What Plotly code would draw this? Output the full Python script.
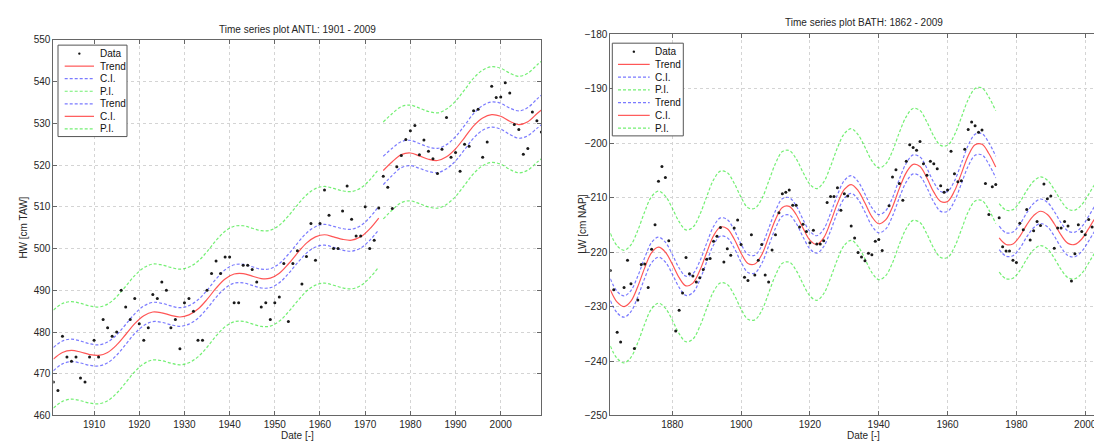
import plotly.graph_objects as go

W, H = 1102, 441

# ---------------- ANTL (left panel) ----------------
antl_years = list(range(1901, 2010))
antl_hw = [468, 466, 479, 474, 473, 474, 469, 468, 474, 478,            # 1901-1910
           474, 483, 481, 479, 480, 490, 486, 483, 488, 482,            # 1911-1920
           478, 481, 489, 488, 492, 490, 481, 483, 476, 487,            # 1921-1930
           488, 485, 478, 478, 490, 494, 497, 494, 498, 498,            # 1931-1940
           487, 487, 496, 496, 495, 492, 486, 487, 483, 487,            # 1941-1950
           488.4, 496.4, 482.5, 496.4, 499.5, 491.5, 498.1, 506, 497.2, 506,  # 1951-1960
           514, 508, 500, 500, 509, 515, 507, 503, 503, 510,            # 1961-1970
           500, 502, 509.7, 517.3, 514.7, 509.6, 519.6, 522.3, 526.1, 528.2,  # 1971-1980
           529.5, 522.5, 526, 523.3, 521.5, 518, 523.8, 531.4, 521.9, 523,    # 1981-1990
           518.5, 525, 524.5, 533, 533.4, 521.9, 525.5, 538.9, 536.2, 536.3,  # 1991-2000
           539.7, 537.3, 529.7, 528.5, 522.6, 524, 532.7, 530.6, 527.9]       # 2001-2009

# fitted trend, read at knots (segment 1: 1901-1973)
antl_k1 = list(range(1901, 1974, 2))
antl_t1 = [473.5, 475.1, 475.6, 475.2, 474.6, 474.4, 475.1, 476.9, 479.4, 482.0,
           483.9, 484.8, 484.6, 484.0, 483.6, 484.1, 485.5, 487.8, 490.5, 492.7,
           493.9, 494.0, 493.4, 492.8, 492.9, 494.1, 496.3, 498.9, 501.3, 502.8,
           503.3, 502.8, 502.2, 502.0, 502.8, 504.7, 507.3]
antl_ci1 = [2.80, 2.74, 2.69, 2.63, 2.58, 2.53, 2.49, 2.44, 2.40, 2.36,
            2.33, 2.30, 2.28, 2.25, 2.23, 2.22, 2.21, 2.20, 2.20, 2.20,
            2.21, 2.22, 2.23, 2.25, 2.28, 2.30, 2.33, 2.36, 2.40, 2.44,
            2.49, 2.53, 2.58, 2.63, 2.69, 2.74, 2.80]
antl_pi1 = [11.75, 11.72, 11.69, 11.66, 11.63, 11.60, 11.58, 11.56, 11.54, 11.52,
            11.50, 11.49, 11.48, 11.47, 11.46, 11.46, 11.45, 11.45, 11.45, 11.45,
            11.45, 11.46, 11.46, 11.47, 11.48, 11.49, 11.50, 11.52, 11.54, 11.56,
            11.58, 11.60, 11.63, 11.66, 11.69, 11.72, 11.75]
# segment 2: 1974-2009
antl_k2 = list(range(1974, 2009, 2)) + [2009]
antl_t2 = [518.7, 520.8, 522.5, 522.9, 522.2, 521.4, 521.1, 522.0, 523.9, 526.6,
           529.4, 531.3, 532.1, 531.7, 530.5, 529.7, 530.4, 532.3, 533.2]
antl_ci2 = [3.40, 3.25, 3.12, 3.03, 2.97, 2.93, 2.91, 2.90, 2.90, 2.91,
            2.93, 2.97, 3.02, 3.09, 3.17, 3.27, 3.38, 3.50, 3.56]
antl_pi2 = [11.60, 11.55, 11.50, 11.47, 11.45, 11.43, 11.42, 11.42, 11.42, 11.42,
            11.43, 11.45, 11.47, 11.50, 11.53, 11.57, 11.61, 11.65, 11.68]

# ---------------- BATH (right panel) ----------------
bath_years = list(range(1862, 2008))
bath_lw = [-223.4, -226.9, -234.7, -236.5, -226.5, -221.5, -225.8, -237.7, -228.8, -222.3,  # 1862-1871
           -222.2, -226.5, -219.5, -215.0, -207.0, -204.3, -206.3, -217.9, None, -234.5,    # 1872-1881
           -230.7, -227.5, -221.0, -224.0, -224.4, -225.5, -224.7, -223.2, -221.3, -221.2,  # 1882-1891
           -218.0, -217.1, -215.5, -221.8, -219.4, -220.6, -215.6, -214.1, -218.6, -224.6,  # 1892-1901
           -225.2, -216.8, -224.2, -221.5, -218.6, -224.2, -225.5, -219.6, -216.8, -212.8,  # 1902-1911
           -209.3, -209.0, -208.6, -211.4, -211.4, -215.4, -214.9, -216.2, -218.3, -216.0,  # 1912-1921
           -218.5, -218.5, -217.9, -210.9, -209.8, -209.8, -208.2, -212.3, -209.3, -209.7,  # 1922-1931
           -215.2, -217.4, -220.1, -220.9, -221.6, -220.2, -220.5, -218.0, -217.7, -219.7,  # 1932-1941
           None, -211.5, -206.2, -204.9, -207.4, -210.5, -203.3, -200.3, -200.8, -201.3,    # 1942-1951
           -199.7, -203.8, -205.9, -203.3, -203.8, -204.7, -207.8, -209.0, -208.6, -201.5,  # 1952-1961
           -205.6, -207.1, -206.9, -201.1, -197.5, -196.1, -196.8, -198.0, -197.6, -207.4,  # 1962-1971
           -213.1, -208.0, -207.6, -213.7, -219.0, -219.8, -219.8, -221.5, -221.9, -214.7,  # 1972-1981
           -215.9, -212.2, -217.8, -216.1, -214.4, -215.1, -207.5, -210.2, -209.7, -219.3,  # 1982-1991
           -215.6, -215.6, -214.4, -215.2, -225.3, -220.3, -215.0, -216.2, -216.8, -214.0,  # 1992-2001
           -215.4, -215.2, -211.8, -213.3, -215.1, -210.7]                                  # 2002-2007

bath_k1 = list(range(1862, 1975, 2))
bath_t1 = [-226.9, -229.2, -230.0, -229.0, -226.3, -222.9, -220.1, -219.1, -220.0, -222.2,
           -224.7, -226.2, -225.7, -223.4, -220.1, -217.0, -215.4, -215.7, -217.6, -220.2,
           -222.1, -222.2, -220.5, -217.3, -214.0, -211.8, -211.6, -213.1, -215.6, -217.8,
           -218.6, -217.4, -214.5, -211.1, -208.5, -207.6, -208.7, -211.0, -213.5, -214.8,
           -214.1, -211.7, -208.3, -205.4, -203.9, -204.3, -206.4, -209.0, -210.7, -210.7,
           -208.8, -205.6, -202.3, -200.3, -200.2, -201.9, -204.4]
bath_ci1 = [2.00, 1.97, 1.95, 1.93, 1.90, 1.88, 1.86, 1.84, 1.82, 1.80,
            1.78, 1.76, 1.74, 1.72, 1.71, 1.69, 1.68, 1.67, 1.66, 1.65,
            1.64, 1.63, 1.62, 1.61, 1.61, 1.60, 1.60, 1.60, 1.60, 1.60,
            1.60, 1.60, 1.61, 1.61, 1.62, 1.63, 1.64, 1.65, 1.66, 1.67,
            1.68, 1.69, 1.71, 1.72, 1.74, 1.76, 1.78, 1.80, 1.82, 1.84,
            1.86, 1.88, 1.90, 1.93, 1.95, 1.97, 2.00]
bath_pi1 = [10.35, 10.34, 10.33, 10.32, 10.31, 10.30, 10.30, 10.29, 10.29, 10.28,
            10.28, 10.27, 10.27, 10.27, 10.26, 10.26, 10.26, 10.26, 10.25, 10.25,
            10.25, 10.25, 10.25, 10.25, 10.25, 10.25, 10.25, 10.25, 10.25, 10.25,
            10.25, 10.25, 10.25, 10.25, 10.25, 10.25, 10.25, 10.25, 10.26, 10.26,
            10.26, 10.26, 10.27, 10.27, 10.27, 10.28, 10.28, 10.29, 10.29, 10.30,
            10.30, 10.31, 10.32, 10.33, 10.34, 10.35, 10.35]
bath_k2 = list(range(1975, 2010, 2))
bath_t2 = [-217.4, -218.6, -218.5, -217.1, -215.0, -213.3, -212.5, -213.1, -214.8, -216.9,
           -218.4, -218.6, -217.6, -215.7, -213.7, -212.6, -212.8, -214.2]
bath_ci2 = [2.15, 2.15, 2.18, 2.20, 2.22, 2.24, 2.25, 2.25, 2.25, 2.25,
            2.26, 2.26, 2.27, 2.28, 2.30, 2.32, 2.35, 2.38]
bath_pi2 = [6.30, 6.30, 6.30, 6.30, 6.30, 6.30, 6.30, 6.30, 6.30, 6.30,
            6.30, 6.30, 6.30, 6.30, 6.30, 6.30, 6.30, 6.30]

legend_labels = ["Data", "Trend", "C.I.", "P.I.", "Trend", "C.I.", "P.I."]

RED = "rgba(255,30,30,0.75)"
BLUE = "rgba(40,40,255,0.62)"
GREEN = "rgba(40,230,40,0.65)"
DASH = "3px,2px"
FONT = "Liberation Sans, Arial, Helvetica, sans-serif"
legend_styles = [("marker", "#111111"), ("solid", RED), ("dash", BLUE), ("dash", GREEN),
                 ("dash", BLUE), ("solid", RED), ("dash", GREEN)]

fig = go.Figure()


def add_panel(xa, ya, years, vals, segments):
    for knots, trend, ci, pi in segments:
        bands = [
            ([t + p for t, p in zip(trend, pi)], GREEN, DASH),
            ([t - p for t, p in zip(trend, pi)], GREEN, DASH),
            ([t + c for t, c in zip(trend, ci)], BLUE, DASH),
            ([t - c for t, c in zip(trend, ci)], BLUE, DASH),
            (trend, RED, "solid"),
        ]
        for yv, col, dash in bands:
            fig.add_trace(go.Scatter(x=knots, y=yv, mode="lines", xaxis=xa, yaxis=ya,
                                     line=dict(color=col, width=1.2, dash=dash,
                                               shape="spline", smoothing=1.0),
                                     showlegend=False, hoverinfo="skip"))
    fig.add_trace(go.Scatter(x=years, y=vals, mode="markers", xaxis=xa, yaxis=ya,
                             marker=dict(size=3, color="#1a1a1a"), showlegend=False,
                             hoverinfo="skip"))


add_panel("x", "y", antl_years, antl_hw,
          [(antl_k1, antl_t1, antl_ci1, antl_pi1), (antl_k2, antl_t2, antl_ci2, antl_pi2)])
add_panel("x2", "y2", bath_years, bath_lw,
          [(bath_k1, bath_t1, bath_ci1, bath_pi1), (bath_k2, bath_t2, bath_ci2, bath_pi2)])


def fx(px):
    return px / W


def fy(py):
    return 1 - py / H


axis_common = dict(showgrid=True, gridcolor="#d4d4d4", griddash="dot", gridwidth=1,
                   showline=True, linecolor="#666666", linewidth=1,
                   ticks="inside", ticklen=4, tickcolor="#666666",
                   tickfont=dict(family=FONT, size=10, color="#262626"),
                   zeroline=False, fixedrange=True)

fig.update_layout(
    width=W, height=H, margin=dict(l=0, r=0, t=0, b=0),
    paper_bgcolor="white", plot_bgcolor="white", showlegend=False,
    font=dict(family=FONT, size=10, color="#262626"),
    xaxis=dict(domain=[fx(45.4), fx(533.4)], range=[1901, 2009], anchor="y",
               tickvals=list(range(1910, 2001, 10)), mirror="ticks", **axis_common),
    yaxis=dict(domain=[fy(412.7), fy(26.6)], range=[460, 550], anchor="x",
               tickvals=list(range(460, 551, 10)), mirror="ticks", **axis_common),
    xaxis2=dict(domain=[fx(602.3), 1.0], range=[1862, 2007.2], anchor="y2",
                tickvals=list(range(1880, 2001, 20)), mirror="ticks", **axis_common),
    yaxis2=dict(domain=[fy(412.7), fy(20.8)], range=[-250, -180], anchor="x2",
                tickvals=list(range(-250, -179, 10)), mirror=False, **axis_common),
)

annotations = [
    dict(text="Time series plot ANTL: 1901 - 2009", x=fx(289.4), y=fy(15.5)),
    dict(text="Time series plot BATH: 1862 - 2009", x=fx(855.5), y=fy(8.3)),
    dict(text="Date [-]", x=fx(289.4), y=fy(433)),
    dict(text="Date [-]", x=fx(855.5), y=fy(433)),
    dict(text="HW [cm TAW]", x=fx(16), y=fy(219.6), textangle=-90),
    dict(text="LW [cm NAP]", x=fx(575), y=fy(216.7), textangle=-90),
]
for a in annotations:
    a.update(xref="paper", yref="paper", showarrow=False, xanchor="center", yanchor="middle",
             font=dict(family=FONT, size=10, color="#262626"))

shapes = []


def add_legend(box, row0, row_step, sample_x0, sample_x1, text_x):
    x0, y0, x1, y1 = box
    shapes.append(dict(type="rect", xref="paper", yref="paper", x0=fx(x0), x1=fx(x1),
                       y0=fy(y1), y1=fy(y0), line=dict(color="#555555", width=1),
                       fillcolor="white", layer="above"))
    for i, (label, (kind, col)) in enumerate(zip(legend_labels, legend_styles)):
        yc = row0 + i * row_step
        if kind == "marker":
            xm = (sample_x0 + sample_x1) / 2
            shapes.append(dict(type="circle", xref="paper", yref="paper",
                               x0=fx(xm - 1.2), x1=fx(xm + 1.2), y0=fy(yc + 1.2), y1=fy(yc - 1.2),
                               fillcolor=col, line=dict(width=0), layer="above"))
        else:
            shapes.append(dict(type="line", xref="paper", yref="paper",
                               x0=fx(sample_x0), x1=fx(sample_x1), y0=fy(yc), y1=fy(yc),
                               line=dict(color=col, width=1.2,
                                         dash="solid" if kind == "solid" else DASH),
                               layer="above"))
        annotations.append(dict(text=label, xref="paper", yref="paper", x=fx(text_x), y=fy(yc),
                                xanchor="left", yanchor="middle", showarrow=False,
                                font=dict(family=FONT, size=10, color="#111111")))


add_legend((50, 32, 119, 126), 40.7, 12.9, 56.7, 86, 89.5)
add_legend((604.3, 30, 675.3, 125.3), 38.7, 13.1, 610, 641.7, 645.3)

fig.update_layout(shapes=shapes, annotations=annotations)
fig.write_html("out.html")
